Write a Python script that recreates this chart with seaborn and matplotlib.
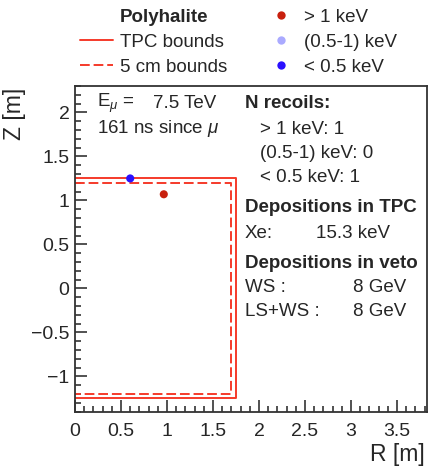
import matplotlib
matplotlib.use("Agg")
import matplotlib.pyplot as plt
from matplotlib.lines import Line2D
from matplotlib.ticker import MultipleLocator
import numpy as np
import pandas as pd
import seaborn as sns

# --- data ------------------------------------------------------------------
tpc_r = [0.0, 1.75, 1.75, 0.0]
tpc_z = [1.25, 1.25, -1.24, -1.24]
fid_r = [0.0, 1.70, 1.70, 0.0]          # 5 cm bounds
fid_z = [1.20, 1.20, -1.20, -1.20]

recoil_r = [0.965, 0.60]
recoil_z = [1.07, 1.25]
recoil_cat = ["> 1 keV", "< 0.5 keV"]

categories = ["> 1 keV", "(0.5-1) keV", "< 0.5 keV"]
cat_colors = ["#c8200e", "#aaaaff", "#2a10ff"]

x_ticks = [0, 0.5, 1, 1.5, 2, 2.5, 3, 3.5]
y_ticks = [-1, -0.5, 0, 0.5, 1, 1.5, 2]

material = "Polyhalite"
e_mu = "7.5 TeV"
t_since = "161 ns since $\\mu$"
n_recoils = [1, 0, 1]
tpc_dep = ("Xe:", "15.3 keV")
veto_dep = [("WS :", "8 GeV"), ("LS+WS :", "8 GeV")]

W, H = 428, 467
LINE_RED = "#f53a2a"

sns.set_style("white")
plt.rcParams["font.family"] = ["Liberation Sans", "DejaVu Sans"]
plt.rcParams["mathtext.fontset"] = "custom"
plt.rcParams["mathtext.rm"] = "Liberation Sans"
plt.rcParams["mathtext.it"] = "Liberation Sans:italic"

fig = plt.figure(figsize=(W / 100, H / 100), dpi=100)
ax = fig.add_axes([75 / W, 1 - 411.7 / H, 351.5 / W, 325.7 / H])


def px(x, y):
    return x / W, 1 - y / H


bounds = pd.concat([
    pd.DataFrame({"r": tpc_r, "z": tpc_z, "kind": "TPC bounds"}),
    pd.DataFrame({"r": fid_r, "z": fid_z, "kind": "5 cm bounds"}),
])
for kind, ls in [("TPC bounds", "-"), ("5 cm bounds", (0, (5, 2)))]:
    sns.lineplot(data=bounds[bounds.kind == kind], x="r", y="z", sort=False,
                 estimator=None, color=LINE_RED, lw=1.4, linestyle=ls, ax=ax)

pts = pd.DataFrame({"r": recoil_r, "z": recoil_z, "cat": recoil_cat})
sns.scatterplot(data=pts, x="r", y="z", hue="cat",
                palette=dict(zip(categories, cat_colors)), s=34,
                edgecolor="none", legend=False, ax=ax, zorder=5)

ax.set_xlim(0, 3.82)
ax.set_ylim(-1.4, 2.3)
ax.set_xticks(x_ticks)
ax.set_yticks(y_ticks)
ax.set_xticklabels([f"{v:g}" for v in x_ticks])
ax.set_yticklabels([f"{v:g}".replace("-", "\u2212") for v in y_ticks])
ax.xaxis.set_minor_locator(MultipleLocator(0.1))
ax.yaxis.set_minor_locator(MultipleLocator(0.1))
ax.tick_params(which="both", direction="in", top=False, right=False,
               bottom=True, left=True, width=1.1, color="#222222")
ax.tick_params(which="major", length=8.5)
ax.tick_params(which="minor", length=4.3)
ax.tick_params(axis="x", labelsize=14, pad=8)
ax.tick_params(axis="y", labelsize=14, pad=4)
ax.set_xlabel("")
ax.set_ylabel("")
for sp in ax.spines.values():
    sp.set_linewidth(1.3)
    sp.set_color("#333333")

fig.text(*px(15, 88), "Z [m]", rotation=90, ha="center", va="top", size=16.5)
fig.text(*px(425, 455), "R [m]", ha="right", va="center", size=16.5)

# legend
handles = [Line2D([], [], lw=0),
           Line2D([], [], color=LINE_RED, lw=1.4),
           Line2D([], [], color=LINE_RED, lw=1.4, ls=(0, (5, 2)))]
labels = [material, "TPC bounds", "5 cm bounds"]
for c, col in zip(categories, cat_colors):
    handles.append(Line2D([], [], lw=0, marker="o", ms=6, color=col, mec="none"))
    labels.append(c)
leg = fig.legend(handles, labels, ncol=2, loc="upper left",
                 bbox_to_anchor=px(74, 3), frameon=False, fontsize=13.5,
                 handlelength=1.76, handletextpad=0.37, columnspacing=2.0,
                 labelspacing=0.42, borderaxespad=0, borderpad=0.3)
leg.get_texts()[0].set_fontweight("bold")

# info text inside the frame
fs = 13.5
fig.text(*px(97, 103), "E$_{\\mu}$ =", size=fs, va="center")
fig.text(*px(153, 103), e_mu, size=fs, va="center")
fig.text(*px(97, 128), t_since, size=fs, va="center")

fig.text(*px(245, 103), "N recoils:", size=fs, va="center", weight="bold")
for i, (c, n) in enumerate(zip(categories, n_recoils)):
    fig.text(*px(260, 129 + 24.3 * i), f"{c}: {n}", size=fs, va="center")

fig.text(*px(245, 208), "Depositions in TPC", size=fs, va="center", weight="bold")
fig.text(*px(245, 233), tpc_dep[0], size=fs, va="center")
fig.text(*px(316, 233), tpc_dep[1], size=fs, va="center")

fig.text(*px(245, 263), "Depositions in veto", size=fs, va="center", weight="bold")
for i, (k, v) in enumerate(veto_dep):
    fig.text(*px(245, 288 + 23 * i), k, size=fs, va="center")
    fig.text(*px(353, 288 + 23 * i), v, size=fs, va="center")

fig.savefig("out.png", dpi=100)
